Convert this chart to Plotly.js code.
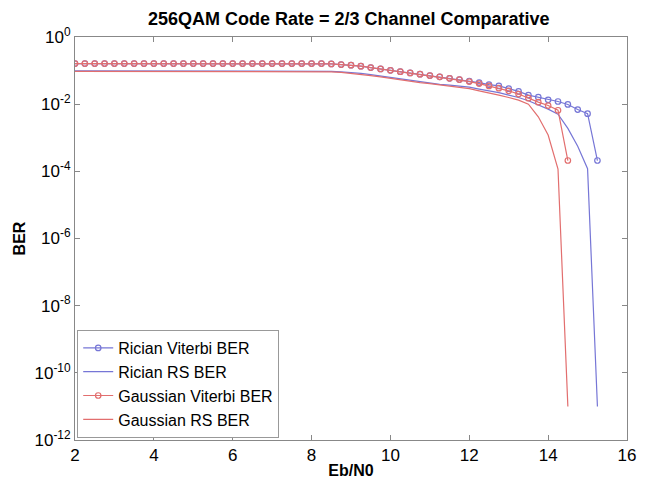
<!DOCTYPE html>
<html>
<head>
<meta charset="utf-8">
<script src="https://cdn.plot.ly/plotly-3.0.1.min.js"></script>
<style>html,body{margin:0;padding:0;background:#fff;}#chart{width:652px;height:482px;}</style>
</head>
<body>
<div id="chart"></div>
<script>
// Eb/N0 grid (dB)
const ebnoRician = [1.75,2,2.25,2.5,2.75,3,3.25,3.5,3.75,4,4.25,4.5,4.75,5,5.25,5.5,5.75,6,6.25,6.5,6.75,7,7.25,7.5,7.75,8,8.25,8.5,8.75,9,9.25,9.5,9.75,10,10.25,10.5,10.75,11,11.25,11.5,11.75,12,12.25,12.5,12.75,13,13.25,13.5,13.75,14,14.25,14.5,14.75,15,15.25];
const ebnoGaussian = [1.75,2,2.25,2.5,2.75,3,3.25,3.5,3.75,4,4.25,4.5,4.75,5,5.25,5.5,5.75,6,6.25,6.5,6.75,7,7.25,7.5,7.75,8,8.25,8.5,8.75,9,9.25,9.5,9.75,10,10.25,10.5,10.75,11,11.25,11.5,11.75,12,12.25,12.5,12.75,13,13.25,13.5,13.75,14,14.25,14.5];

const ricianViterbi = [0.162,0.162,0.162,0.162,0.162,0.162,0.162,0.162,0.162,0.162,0.162,0.162,0.162,0.162,0.162,0.162,0.162,0.162,0.162,0.162,0.162,0.162,0.162,0.162,0.162,0.162,0.162,
  0.158,0.151,0.145,0.135,
  0.123,0.112,0.102,0.093,0.085,0.078,0.071,0.065,0.059,0.054,0.049,0.044,0.038,0.035,0.029,0.024,0.0186,0.0162,0.0135,0.012,0.0098,0.0069,0.0052,2.1e-4];
const ricianRS = [0.098,0.098,0.098,0.098,0.098,0.098,0.098,0.098,0.098,0.098,0.098,0.098,0.098,0.098,0.098,0.098,0.098,0.098,0.098,0.098,0.098,0.098,0.098,0.098,0.098,0.098,0.097,0.095,
  0.092,0.088,0.083,0.076,0.069,0.063,0.056,0.050,0.046,0.042,0.039,0.037,0.035,0.032,0.028,0.025,0.022,0.0186,0.0158,0.0126,0.0095,0.0071,0.005,0.0019,5.6e-4,1.2e-4,1e-11];
const gaussianViterbi = [0.162,0.162,0.162,0.162,0.162,0.162,0.162,0.162,0.162,0.162,0.162,0.162,0.162,0.162,0.162,0.162,0.162,0.162,0.162,0.162,0.162,0.162,0.162,0.162,0.162,0.162,0.162,
  0.158,0.151,0.145,0.135,
  0.123,0.112,0.102,0.093,0.085,0.078,0.071,0.065,0.059,0.054,0.047,0.041,0.035,0.030,0.025,0.020,0.0151,0.0115,0.0091,0.0066,2.1e-4];
const gaussianRS = [0.095,0.095,0.095,0.095,0.095,0.095,0.095,0.095,0.095,0.095,0.095,0.095,0.095,0.095,0.095,0.095,0.095,0.095,0.095,0.095,0.095,0.095,0.095,0.095,0.095,0.095,0.094,0.092,
  0.089,0.084,0.078,0.071,0.065,0.059,0.052,0.048,0.044,0.041,0.038,0.035,0.032,0.029,0.025,0.022,0.0186,0.0158,0.0132,0.010,0.0042,0.0012,1.17e-4,1e-11];

const seriesNames = ['Rician Viterbi BER','Rician RS BER','Gaussian Viterbi BER','Gaussian RS BER'];
const xTicks = [2,4,6,8,10,12,14,16];
const yTickVals = [1,1e-2,1e-4,1e-6,1e-8,1e-10,1e-12];
const yTickText = ['10<sup>0</sup>','10<sup>-2</sup>','10<sup>-4</sup>','10<sup>-6</sup>','10<sup>-8</sup>','10<sup>-10</sup>','10<sup>-12</sup>'];

const blue = 'rgb(118,118,214)';
const red = 'rgb(226,110,110)';
const FONT = 'Liberation Sans, Arial, sans-serif';

const traces = [
  {x: ebnoRician, y: ricianViterbi, name: seriesNames[0], mode: 'lines+markers',
   line: {color: blue, width: 1.2}, marker: {symbol: 'circle-open', size: 5.5, color: blue, line: {width: 1.2}}},
  {x: ebnoRician, y: ricianRS, name: seriesNames[1], mode: 'lines',
   line: {color: blue, width: 1.2}},
  {x: ebnoGaussian, y: gaussianViterbi, name: seriesNames[2], mode: 'lines+markers',
   line: {color: red, width: 1.2}, marker: {symbol: 'circle-open', size: 5.5, color: red, line: {width: 1.2}}},
  {x: ebnoGaussian, y: gaussianRS, name: seriesNames[3], mode: 'lines',
   line: {color: red, width: 1.2}}
];

const layout = {
  width: 652, height: 482,
  margin: {l: 75, r: 25, t: 37, b: 42},
  paper_bgcolor: '#fff', plot_bgcolor: '#fff',
  font: {family: FONT, size: 17, color: '#000'},
  title: {text: '256QAM Code Rate = 2/3 Channel Comparative', font: {family: FONT, size: 18, weight: 'bold', color: '#000'},
          x: 0.535, xanchor: 'center', y: 0.962, yanchor: 'middle'},
  xaxis: {range: [2, 16], tickvals: xTicks, ticktext: xTicks.map(String), ticks: 'inside', ticklen: 5,
          tickcolor: '#888', showline: true, linecolor: '#888', linewidth: 1, mirror: 'ticks',
          showgrid: false, zeroline: false, tickfont: {size: 17},
          title: {text: 'Eb/N0', font: {size: 16, weight: 'bold'}, standoff: 0}},
  yaxis: {type: 'log', range: [-12, 0], tickvals: yTickVals, ticktext: yTickText, ticks: 'inside', ticklen: 5,
          tickcolor: '#888', showline: true, linecolor: '#888', linewidth: 1, mirror: 'ticks',
          showgrid: false, zeroline: false, tickfont: {size: 17},
          title: {text: 'BER', font: {size: 16, weight: 'bold'}, standoff: 4}},
  showlegend: true,
  legend: {x: 0.004, y: 0.005, xanchor: 'left', yanchor: 'bottom', bgcolor: '#fff',
           bordercolor: '#999', borderwidth: 1, font: {size: 16}, tracegroupgap: 0},
};

Plotly.newPlot('chart', traces, layout, {displayModeBar: false, staticPlot: true});
</script>
</body>
</html>
